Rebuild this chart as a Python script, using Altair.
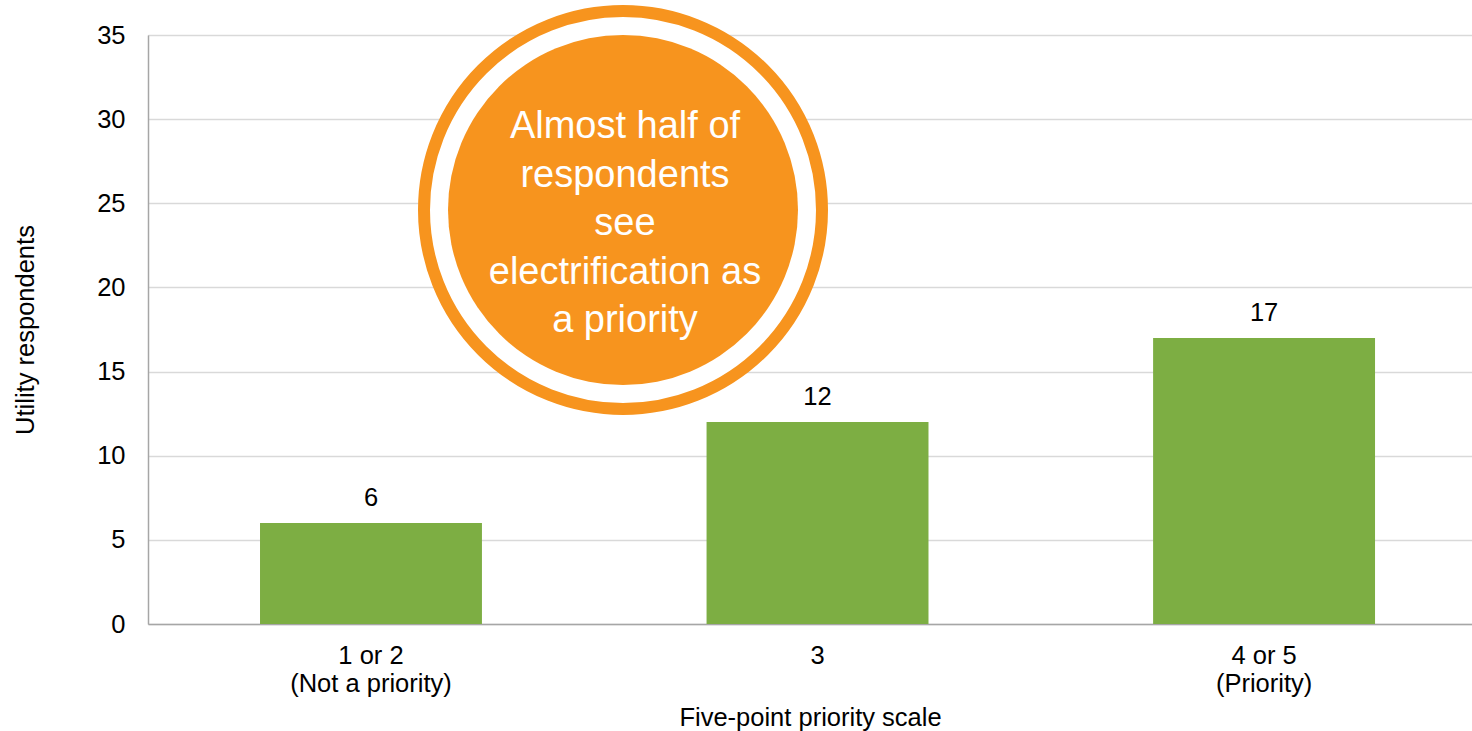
import altair as alt
import pandas as pd

categories = ["1 or 2\n(Not a priority)", "3", "4 or 5\n(Priority)"]
values = [6, 12, 17]
y_ticks = [0, 5, 10, 15, 20, 25, 30, 35]
callout_lines = ["Almost half of", "respondents", "see", "electrification as", "a priority"]

GREEN = "#7DAE43"
ORANGE = "#F7941E"
FONT = "Liberation Sans"
FS = 25.5

df = pd.DataFrame({"cat": categories, "val": values})

x_enc = alt.X(
    "cat:N",
    sort=categories,
    title="Five-point priority scale",
    scale=alt.Scale(paddingInner=0.503, paddingOuter=0.234, align=0.536),
    axis=alt.Axis(
        labelAngle=0,
        labelExpr="split(datum.label, '\\n')",
        labelFontSize=FS,
        labelLineHeight=28,
        labelPadding=19,
        labelColor="#000000",
        labelFont=FONT,
        ticks=False,
        domainColor="#A6A6A6",
        domainWidth=1.5,
        titleFontSize=FS,
        titleFont=FONT,
        titleFontWeight="normal",
        titleColor="#000000",
        titlePadding=9,
    ),
)
y_enc = alt.Y(
    "val:Q",
    title="Utility respondents",
    scale=alt.Scale(domain=[0, 35], nice=False),
    axis=alt.Axis(
        values=y_ticks,
        labelFontSize=FS,
        labelColor="#000000",
        labelFont=FONT,
        labelPadding=23,
        ticks=False,
        domainColor="#A6A6A6",
        domainWidth=1.5,
        gridColor="#D9D9D9",
        gridWidth=1.5,
        titleFontSize=FS,
        titleFont=FONT,
        titleFontWeight="normal",
        titleColor="#000000",
        titlePadding=58,
    ),
)

base = alt.Chart(df)
bars = base.mark_bar(color=GREEN).encode(x=x_enc, y=y_enc)
labels = base.mark_text(baseline="alphabetic", dy=-17, fontSize=FS, font=FONT, color="#000000").encode(
    x=alt.X("cat:N", sort=categories), y="val:Q", text="val:Q"
)

ann = alt.Chart(pd.DataFrame({"a": [0]}))
ring = ann.mark_point(shape="circle", filled=False, fill="white", fillOpacity=1, stroke=ORANGE,
                      strokeWidth=12, opacity=1, size=158400).encode(
    x=alt.value(475), y=alt.value(175)
)
disc = ann.mark_point(shape="circle", filled=True, color=ORANGE, opacity=1, size=122500).encode(
    x=alt.value(475), y=alt.value(175)
)
ctext = ann.mark_text(fontSize=38, font=FONT, color="white", lineHeight=48.5, baseline="alphabetic", align="center").encode(
    x=alt.value(477), y=alt.value(103), text=alt.value(callout_lines)
)

chart = alt.layer(bars, labels, ring, disc, ctext).properties(
    width=1324, height=589,
    autosize=alt.AutoSizeParams(type="none"),
    padding={"left": 148, "top": 35, "right": 0, "bottom": 107},
).configure_view(stroke=None).configure(background="white")

chart.save("out.html", embed_options={"renderer": "svg", "actions": False})
